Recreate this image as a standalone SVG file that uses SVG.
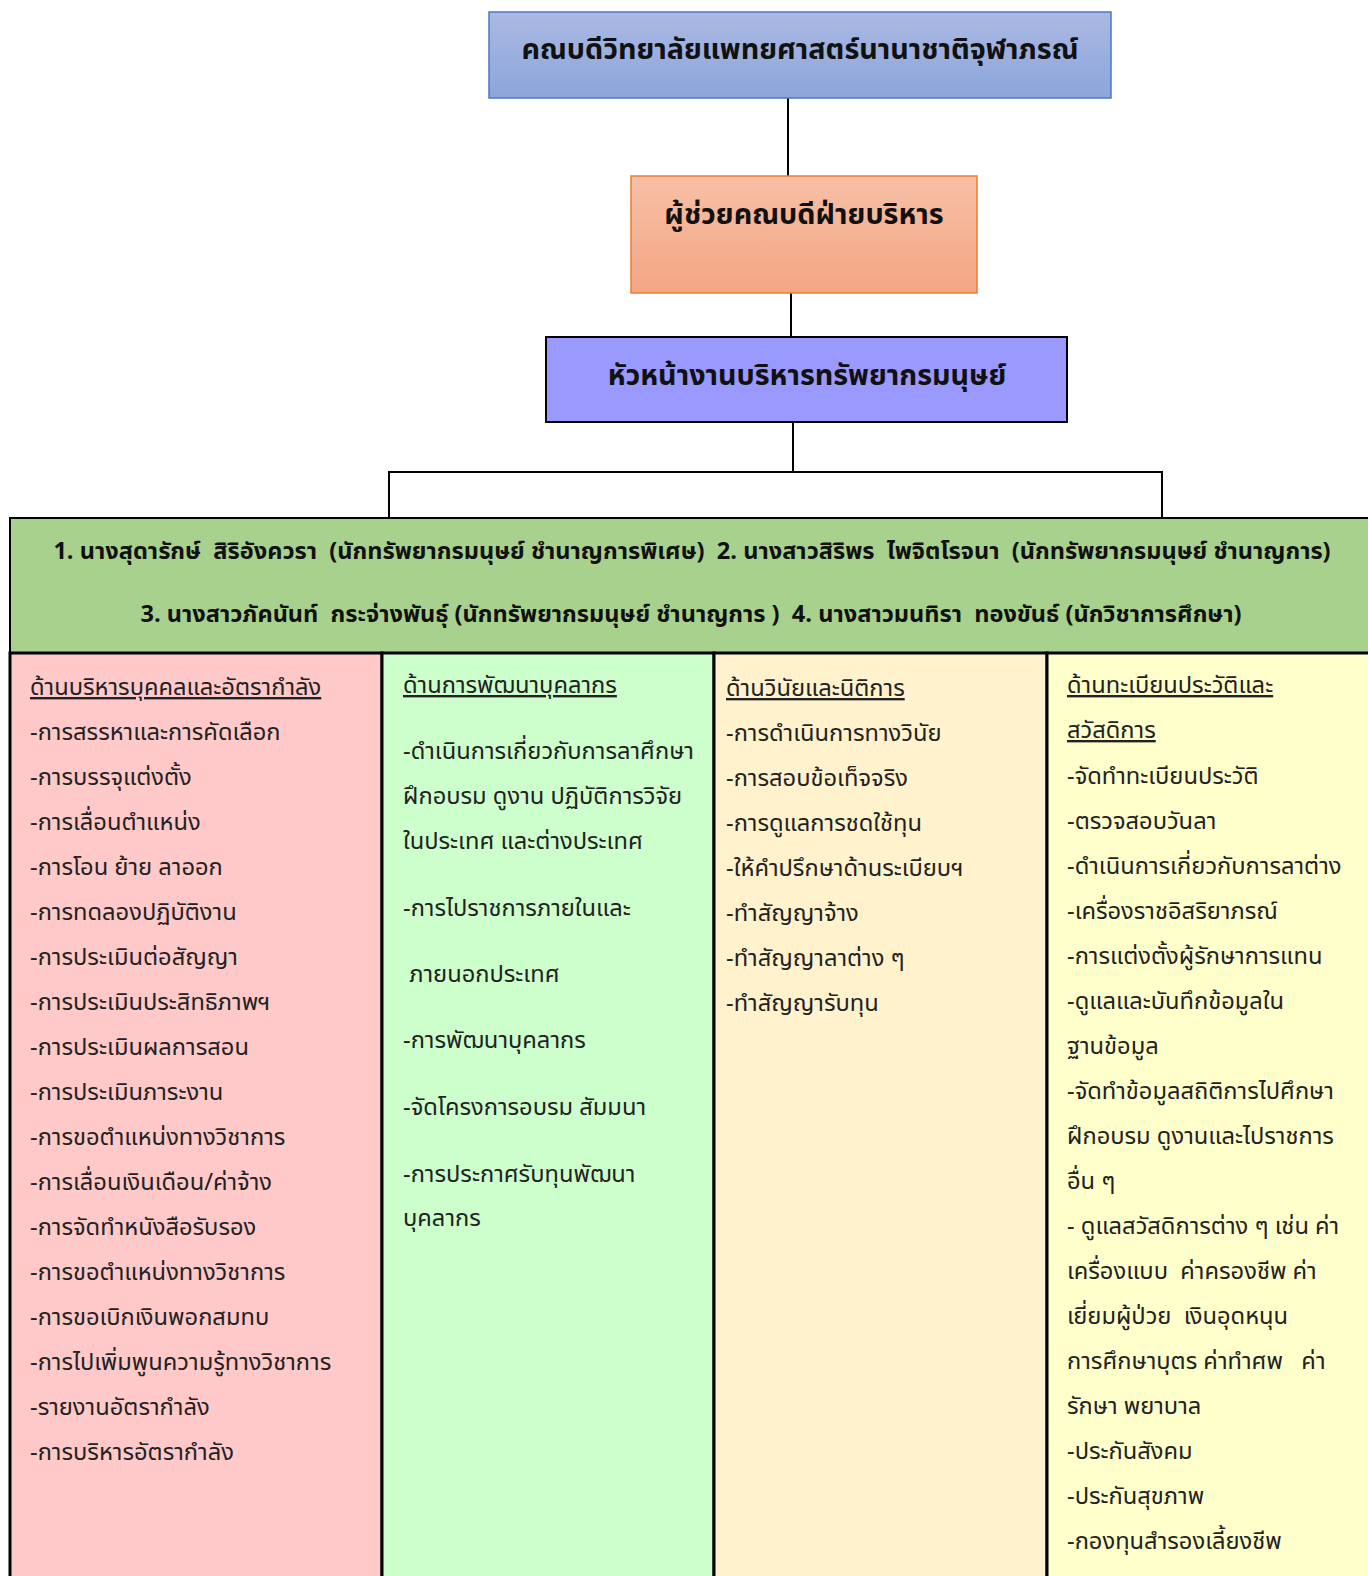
<svg xmlns="http://www.w3.org/2000/svg" width="1368" height="1576" viewBox="0 0 1368 1576" xml:space="preserve">
<defs>
<linearGradient id="gBlue" x1="0" y1="0" x2="0" y2="1"><stop offset="0" stop-color="#aab9e2"/><stop offset="1" stop-color="#8da5db"/></linearGradient>
<linearGradient id="gOrange" x1="0" y1="0" x2="0" y2="1"><stop offset="0" stop-color="#f7c0a6"/><stop offset="1" stop-color="#f4a583"/></linearGradient>
<style>
text{font-family:"Noto Sans Thai","Leelawadee UI",Tahoma,"DejaVu Sans",sans-serif;fill:#222;white-space:pre}
.t{font-size:28.7px;font-weight:bold;fill:#111;text-anchor:middle}
.g{font-size:23.6px;font-weight:bold;fill:#111;text-anchor:middle}
.c{font-size:23.7px}
.h{text-decoration:underline}
.ln{stroke:#000;stroke-width:2;fill:none}
.col{stroke:#000;stroke-width:3}
</style>
</defs>
<rect width="1368" height="1576" fill="#fff"/>
<g id="connectors">
<path class="ln" d="M788 90V176"/>
<path class="ln" d="M791 293V337"/>
<path class="ln" d="M793 422V472M389 472H1162M389 471V522M1162 471V522"/>
</g>
<g id="node-dean">
<rect x="489" y="12" width="622" height="86" fill="url(#gBlue)" stroke="#4a78c8" stroke-width="1.5"/>
<text class="t" x="800" y="59">คณบดีวิทยาลัยแพทยศาสตร์นานาชาติจุฬาภรณ์</text>
</g>
<g id="node-assistant">
<rect x="631" y="176" width="346" height="117" fill="url(#gOrange)" stroke="#ed7d31" stroke-width="1.5"/>
<text class="t" x="804" y="224">ผู้ช่วยคณบดีฝ่ายบริหาร</text>
</g>
<g id="node-head">
<rect x="546" y="337" width="521" height="85" fill="#9999ff" stroke="#000" stroke-width="2"/>
<text class="t" x="807" y="385">หัวหน้างานบริหารทรัพยากรมนุษย์</text>
</g>
<g id="node-staff">
<rect x="10" y="518" width="1370" height="135" fill="#a9d18e" stroke="#000" stroke-width="2"/>
<text class="g" x="692" y="559">1. นางสุดารักษ์  สิริอังควรา  (นักทรัพยากรมนุษย์ ชำนาญการพิเศษ)  2. นางสาวสิริพร  ไพจิตโรจนา  (นักทรัพยากรมนุษย์ ชำนาญการ)</text>
<text class="g" x="691" y="622">3. นางสาวภัคนันท์  กระจ่างพันธุ์ (นักทรัพยากรมนุษย์ ชำนาญการ )  4. นางสาวมนทิรา  ทองขันธ์ (นักวิชาการศึกษา)</text>
</g>
<g id="node-col1">
<rect class="col" x="10" y="653" width="372" height="930" fill="#ffc9c9"/>
<text class="c h" x="30" y="695">ด้านบริหารบุคคลและอัตรากำลัง</text>
<text class="c" x="30" y="740">-การสรรหาและการคัดเลือก</text>
<text class="c" x="30" y="785">-การบรรจุแต่งตั้ง</text>
<text class="c" x="30" y="830">-การเลื่อนตำแหน่ง</text>
<text class="c" x="30" y="875">-การโอน ย้าย ลาออก</text>
<text class="c" x="30" y="920">-การทดลองปฏิบัติงาน</text>
<text class="c" x="30" y="965">-การประเมินต่อสัญญา</text>
<text class="c" x="30" y="1010">-การประเมินประสิทธิภาพฯ</text>
<text class="c" x="30" y="1055">-การประเมินผลการสอน</text>
<text class="c" x="30" y="1100">-การประเมินภาระงาน</text>
<text class="c" x="30" y="1145">-การขอตำแหน่งทางวิชาการ</text>
<text class="c" x="30" y="1190">-การเลื่อนเงินเดือน/ค่าจ้าง</text>
<text class="c" x="30" y="1235">-การจัดทำหนังสือรับรอง</text>
<text class="c" x="30" y="1280">-การขอตำแหน่งทางวิชาการ</text>
<text class="c" x="30" y="1325">-การขอเบิกเงินพอกสมทบ</text>
<text class="c" x="30" y="1370">-การไปเพิ่มพูนความรู้ทางวิชาการ</text>
<text class="c" x="30" y="1415">-รายงานอัตรากำลัง</text>
<text class="c" x="30" y="1460">-การบริหารอัตรากำลัง</text>
</g>
<g id="node-col2">
<rect class="col" x="382" y="653" width="332" height="930" fill="#ccffcc"/>
<text class="c h" x="403" y="693">ด้านการพัฒนาบุคลากร</text>
<text class="c" x="403" y="759">-ดำเนินการเกี่ยวกับการลาศึกษา</text>
<text class="c" x="403" y="804">ฝึกอบรม ดูงาน ปฏิบัติการวิจัย</text>
<text class="c" x="403" y="849">ในประเทศ และต่างประเทศ</text>
<text class="c" x="403" y="916">-การไปราชการภายในและ</text>
<text class="c" x="403" y="982"> ภายนอกประเทศ</text>
<text class="c" x="403" y="1048">-การพัฒนาบุคลากร</text>
<text class="c" x="403" y="1115">-จัดโครงการอบรม สัมมนา</text>
<text class="c" x="403" y="1182">-การประกาศรับทุนพัฒนา</text>
<text class="c" x="403" y="1226">บุคลากร</text>
</g>
<g id="node-col3">
<rect class="col" x="714" y="653" width="333" height="930" fill="#fff2cc"/>
<text class="c h" x="726" y="696">ด้านวินัยและนิติการ</text>
<text class="c" x="726" y="741">-การดำเนินการทางวินัย</text>
<text class="c" x="726" y="786">-การสอบข้อเท็จจริง</text>
<text class="c" x="726" y="831">-การดูแลการชดใช้ทุน</text>
<text class="c" x="726" y="876">-ให้คำปรึกษาด้านระเบียบฯ</text>
<text class="c" x="726" y="921">-ทำสัญญาจ้าง</text>
<text class="c" x="726" y="966">-ทำสัญญาลาต่าง ๆ</text>
<text class="c" x="726" y="1011">-ทำสัญญารับทุน</text>
</g>
<g id="node-col4">
<rect class="col" x="1047" y="653" width="330" height="930" fill="#ffffcc"/>
<text class="c h" x="1067" y="693">ด้านทะเบียนประวัติและ</text>
<text class="c h" x="1067" y="738">สวัสดิการ</text>
<text class="c" x="1067" y="784">-จัดทำทะเบียนประวัติ</text>
<text class="c" x="1067" y="829">-ตรวจสอบวันลา</text>
<text class="c" x="1067" y="874">-ดำเนินการเกี่ยวกับการลาต่าง</text>
<text class="c" x="1067" y="919">-เครื่องราชอิสริยาภรณ์</text>
<text class="c" x="1067" y="964">-การแต่งตั้งผู้รักษาการแทน</text>
<text class="c" x="1067" y="1009">-ดูแลและบันทึกข้อมูลใน</text>
<text class="c" x="1067" y="1054">ฐานข้อมูล</text>
<text class="c" x="1067" y="1099">-จัดทำข้อมูลสถิติการไปศึกษา</text>
<text class="c" x="1067" y="1144">ฝึกอบรม ดูงานและไปราชการ</text>
<text class="c" x="1067" y="1189">อื่น ๆ</text>
<text class="c" x="1067" y="1234">- ดูแลสวัสดิการต่าง ๆ เช่น ค่า</text>
<text class="c" x="1067" y="1279">เครื่องแบบ  ค่าครองชีพ ค่า</text>
<text class="c" x="1067" y="1324">เยี่ยมผู้ป่วย  เงินอุดหนุน</text>
<text class="c" x="1067" y="1369">การศึกษาบุตร ค่าทำศพ   ค่า</text>
<text class="c" x="1067" y="1414">รักษา พยาบาล</text>
<text class="c" x="1067" y="1459">-ประกันสังคม</text>
<text class="c" x="1067" y="1504">-ประกันสุขภาพ</text>
<text class="c" x="1067" y="1549">-กองทุนสำรองเลี้ยงชีพ</text>
</g>
</svg>
